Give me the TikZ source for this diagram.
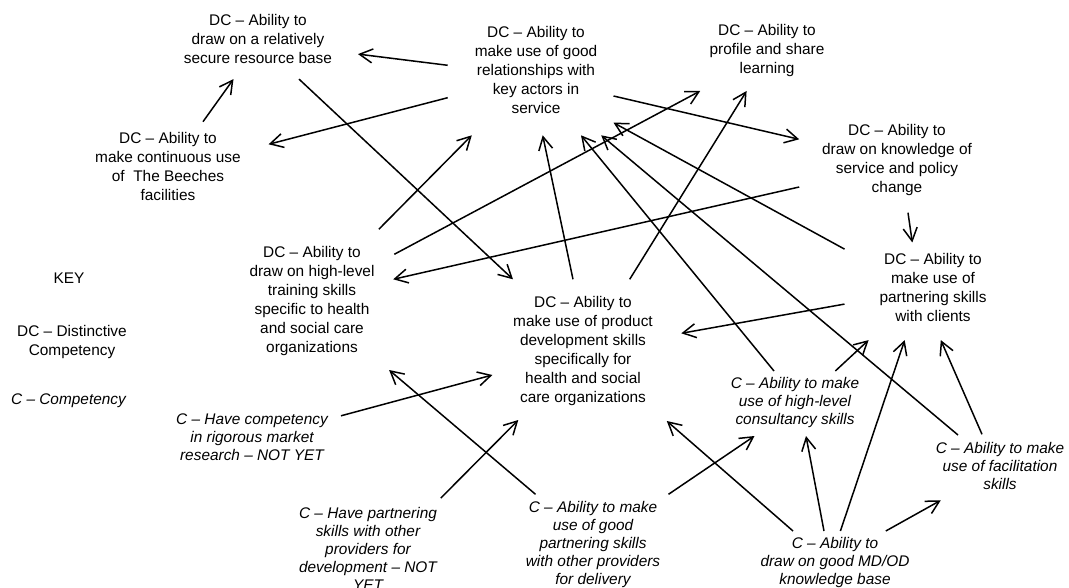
\documentclass[tikz,border=0pt]{standalone}
\usepackage{fontspec}
\setmainfont{Liberation Sans}
\usetikzlibrary{arrows.meta,calc}
\tikzset{
  txt/.style={align=center,inner sep=0pt,font=\fontsize{15.4}{19}\selectfont},
  ctxt/.style={align=center,inner sep=0pt,font=\fontsize{15.4}{18}\selectfont\itshape},
  arr/.style={line width=1.5pt,-{Straight Barb[length=13pt,width=14pt,line width=1.5pt]}}
}
\begin{document}
\begin{tikzpicture}[x=1pt,y=-1pt]
\useasboundingbox (0,0) rectangle (1069,588);
% DC nodes
\node[txt] (A) at (258,38.5) {DC – Ability to\\draw on a relatively\\secure resource base};
\node[txt] (B) at (536,70) {DC – Ability to\\make use of good\\relationships with\\key actors in\\service};
\node[txt] (C) at (767,51) {DC – Ability to\\profile and share\\learning};
\node[txt] (D) at (168,166.5) {DC – Ability to\\make continuous use\\of \ The Beeches\\facilities};
\node[txt] (E) at (897,160) {DC – Ability to\\draw on knowledge of\\service and policy\\change};
\node[txt] (F) at (933,287.5) {DC – Ability to\\make use of\\partnering skills\\with clients};
\node[txt] (G) at (312,301) {DC – Ability to\\draw on high-level\\training skills\\specific to health\\and social care\\organizations};
\node[txt] (H) at (583,351) {DC – Ability to\\make use of product\\development skills\\specifically for\\health and social\\care organizations};
% C nodes
\node[ctxt] (I) at (252,437.5) {C – Have competency\\in rigorous market\\research – NOT YET};
\node[ctxt] (J) at (368,548.5) {C – Have partnering\\skills with other\\providers for\\development – NOT\\YET};
\node[ctxt] (K) at (593,545) {C – Ability to make\\use of good\\partnering skills\\with other providers\\for delivery};
\node[ctxt] (L) at (795,403) {C – Ability to make\\use of high-level\\consultancy skills};
\node[ctxt] (M) at (835,563) {C – Ability to\\draw on good MD/OD\\knowledge base};
\node[ctxt] (N) at (1000,466) {C – Ability to make\\use of facilitation\\skills};
% key
\node[txt] (key) at (69,278) {KEY};
\node[txt] (kdc) at (72,342) {DC – Distinctive\\Competency};
\node[ctxt] (kc) at (68.5,400.5) {C – Competency};
% connectors
\draw[arr] ($(B)+(-88.3,-4.7)$) -- ($(A)+(100,15.6)$);
\draw[arr] ($(D)+(35,-44.8)$) -- ($(A)+(-24.5,40.6)$);
\draw[arr] ($(A)+(41,40.6)$) -- ($(H)+(-70,-71.7)$);
\draw[arr] ($(B)+(-88.3,27.7)$) -- ($(D)+(100.6,-22.2)$);
\draw[arr] ($(G)+(66.8,-71.7)$) -- ($(B)+(-64.2,65.3)$);
\draw[arr] ($(G)+(82.3,-46.7)$) -- ($(C)+(-66.8,40)$);
\draw[arr] ($(E)+(-97.8,27)$) -- ($(G)+(81.2,-21.7)$);
\draw[arr] ($(B)+(77.5,26)$) -- ($(E)+(-97.8,-20.7)$);
\draw[arr] ($(H)+(-10,-71.7)$) -- ($(B)+(6.7,65.3)$);
\draw[arr] ($(H)+(46.7,-71.7)$) -- ($(C)+(-20.4,40)$);
\draw[arr] ($(L)+(-21,-32)$) -- ($(B)+(45,65.3)$);
\draw[arr] ($(N)+(-42,-31)$) -- ($(B)+(65.2,65.3)$);
\draw[arr] ($(F)+(-88.5,-38.4)$) -- ($(B)+(77.5,52.7)$);
\draw[arr] ($(E)+(11,52.7)$) -- ($(F)+(-20.7,-45)$);
\draw[arr] ($(F)+(-88.5,16.6)$) -- ($(H)+(98.3,-17.7)$);
\draw[arr] ($(L)+(40.3,-32)$) -- ($(F)+(-64.4,52.6)$);
\draw[arr] ($(M)+(5.4,-32)$) -- ($(F)+(-28.3,52.6)$);
\draw[arr] ($(N)+(-18,-31.7)$) -- ($(F)+(7.8,52.6)$);
\draw[arr] ($(M)+(-11,-32)$) -- ($(L)+(11,33)$);
\draw[arr] ($(M)+(50.8,-32)$) -- ($(N)+(-59.2,34.3)$);
\draw[arr] ($(K)+(75.5,-50.7)$) -- ($(L)+(-40.5,33)$);
\draw[arr] ($(M)+(-42,-32)$) -- ($(H)+(83.8,70)$);
\draw[arr] ($(I)+(89,-21.7)$) -- ($(H)+(-90.6,24)$);
\draw[arr] ($(J)+(72.8,-50.4)$) -- ($(H)+(-64.7,69)$);
\draw[arr] ($(K)+(-57.5,-50.7)$) -- ($(G)+(77.1,69)$);
\end{tikzpicture}
\end{document}
